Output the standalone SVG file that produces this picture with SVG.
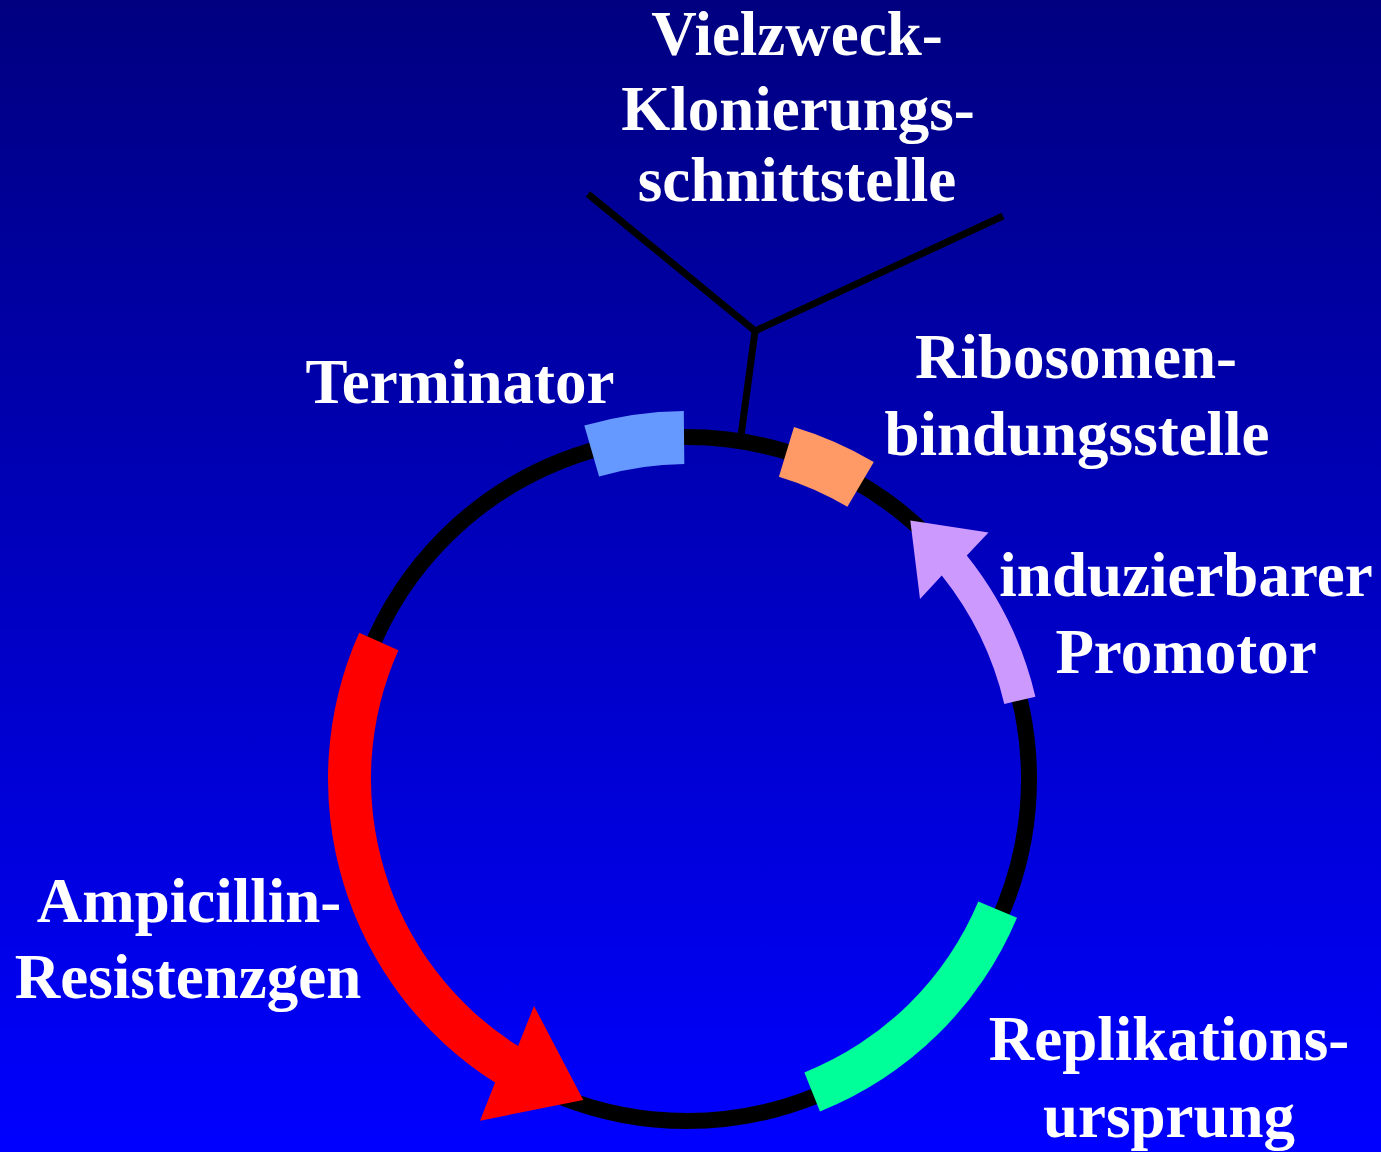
<svg xmlns="http://www.w3.org/2000/svg" width="1381" height="1152" viewBox="0 0 1381 1152">
  <defs>
    <linearGradient id="bg" x1="0" y1="0" x2="0" y2="1">
      <stop offset="0" stop-color="#000080"/>
      <stop offset="1" stop-color="#0000FF"/>
    </linearGradient>
  </defs>
  <style>
    .lbl { font-family: "Liberation Serif", "Times New Roman", serif; font-weight: bold; font-size: 63px; fill: #FFFFFF; text-anchor: middle; }
    .ring { fill: none; stroke: #000000; stroke-width: 16; }
    .line { fill: none; stroke: #000000; stroke-width: 7; stroke-linejoin: miter; }
  </style>
  <rect x="0" y="0" width="1381" height="1152" fill="url(#bg)"/>

  <g id="plasmid-ring">
    <circle class="ring" cx="687" cy="779" r="342"/>
  </g>

  <g id="connectors">
    <polyline class="line" points="588,194 755,331 1003,216"/>
    <line class="line" x1="755" y1="331" x2="741" y2="436"/>
  </g>

  <g id="terminator">
    <path d="M584.3,425.6 A368,368 0 0 1 683.8,411 L684.3,464 A315,315 0 0 0 599.1,476.5 Z" fill="#6699FF"/>
    <text class="lbl" x="460" y="403">Terminator</text>
  </g>

  <g id="mcs">
    <text class="lbl" x="797" y="55">Vielzweck-</text>
    <text class="lbl" x="798" y="130">Klonierungs-</text>
    <text class="lbl" x="797" y="201">schnittstelle</text>
  </g>

  <g id="rbs">
    <path d="M794,426.9 A368,368 0 0 1 873.8,461.9 L847.4,506.7 A316,316 0 0 0 778.9,476.7 Z" fill="#FF9966"/>
    <text class="lbl" x="1076" y="378">Ribosomen-</text>
    <text class="lbl" x="1077" y="455">bindungsstelle</text>
  </g>

  <g id="promoter">
    <path d="M1035.4,696.7 A358,358 0 0 0 966.8,555.6 L988.5,532.5 L910.3,520.5 L920,599 L941.8,575.6 A326,326 0 0 1 1004.3,704 Z" fill="#CC99FF"/>
    <text class="lbl" x="1186" y="596">induzierbarer</text>
    <text class="lbl" x="1186" y="673">Promotor</text>
  </g>

  <g id="ori">
    <path d="M1017,917.7 A358,358 0 0 1 820,1111.4 L804.4,1072.4 A316,316 0 0 0 978.3,901.5 Z" fill="#00FF99"/>
    <text class="lbl" x="1169" y="1060">Replikations-</text>
    <text class="lbl" x="1169" y="1137">ursprung</text>
  </g>

  <g id="ampr">
    <path d="M359.2,632.7 A359,359 0 0 0 495.1,1082.5 L480,1120.7 L583.3,1100 L534,1006 L518.1,1046.1 A316,316 0 0 1 398.4,650.2 Z" fill="#FF0000"/>
    <text class="lbl" x="189" y="922">Ampicillin-</text>
    <text class="lbl" x="188" y="998">Resistenzgen</text>
  </g>
</svg>
